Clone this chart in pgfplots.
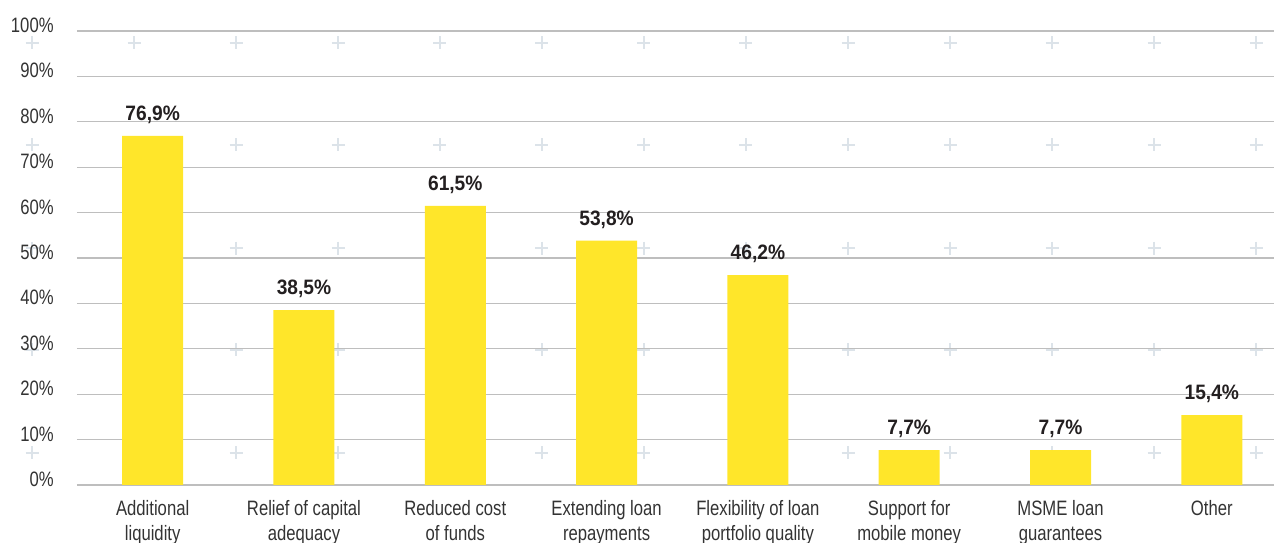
\documentclass[border=0pt]{standalone}
\usepackage{pgfplots}
\pgfplotsset{compat=1.18}
\usepackage{fontspec}
\setmainfont{Liberation Sans}[FakeStretch=0.80]
\newfontfamily\lblfont{Liberation Sans}[FakeStretch=0.92]
\definecolor{baryellow}{HTML}{FFE62A}
\definecolor{gridgray}{HTML}{BEBEBE}
\definecolor{txt}{HTML}{333333}
\definecolor{lbl}{HTML}{231F20}
\definecolor{plusc}{HTML}{DCE3E9}
\begin{document}
\begin{tikzpicture}
\begin{axis}[
  name=ax,
  set layers=standard,
  scale only axis,
  width=718.2pt, height=272.4pt,
  xmin=-0.5, xmax=7.411, ymin=0, ymax=100,
  clip=false,
  clip mode=individual,
  axis line style={draw=none},
  major tick length=0pt,
  ymajorgrids, grid style={gridgray, line width=0.8pt},
  ytick={0,10,...,100},
  yticklabels={0\%,10\%,20\%,30\%,40\%,50\%,60\%,70\%,80\%,90\%,100\%},
  yticklabel style={font=\fontsize{12.5}{14}\selectfont, text=txt, anchor=east, xshift=-10.5pt, yshift=3.4pt},
  xtick={0,...,7},
  xticklabels={Additional\\liquidity, Relief of capital\\adequacy, Reduced cost\\of funds, Extending loan\\repayments, Flexibility of loan\\portfolio quality, Support for\\mobile money, MSME loan\\guarantees, Other},
  xticklabel style={font=\fontsize{12.5}{15}\selectfont, text=txt, align=center, anchor=north, yshift=-6pt},
  /pgf/number format/assume math mode=true,
]
\addplot[on layer=axis background, mark layer=axis background, only marks, mark=+, mark size=3.9pt, color=plusc, line width=0.7pt, forget plot] coordinates {
(-0.797,97.36)(-0.123,97.36)(0.551,97.36)(1.225,97.36)(1.899,97.36)(2.573,97.36)(3.247,97.36)(3.921,97.36)(4.596,97.36)(5.270,97.36)(5.944,97.36)(6.618,97.36)(7.292,97.36)
(-0.797,74.89)(-0.123,74.89)(0.551,74.89)(1.225,74.89)(1.899,74.89)(2.573,74.89)(3.247,74.89)(3.921,74.89)(4.596,74.89)(5.270,74.89)(5.944,74.89)(6.618,74.89)(7.292,74.89)
(-0.797,52.20)(-0.123,52.20)(0.551,52.20)(1.225,52.20)(1.899,52.20)(2.573,52.20)(3.247,52.20)(3.921,52.20)(4.596,52.20)(5.270,52.20)(5.944,52.20)(6.618,52.20)(7.292,52.20)
(-0.797,29.74)(-0.123,29.74)(0.551,29.74)(1.225,29.74)(1.899,29.74)(2.573,29.74)(3.247,29.74)(3.921,29.74)(4.596,29.74)(5.270,29.74)(5.944,29.74)(6.618,29.74)(7.292,29.74)
(-0.797,7.05)(-0.123,7.05)(0.551,7.05)(1.225,7.05)(1.899,7.05)(2.573,7.05)(3.247,7.05)(3.921,7.05)(4.596,7.05)(5.270,7.05)(5.944,7.05)(6.618,7.05)(7.292,7.05)
};
\addplot[ybar, bar width=36.6pt, fill=baryellow, draw=none,
  nodes near coords={\pgfmathprintnumber[fixed,fixed zerofill,precision=1,use comma]{\pgfplotspointmeta}\%},
  nodes near coords style={font=\lblfont\fontsize{12.5}{14}\selectfont\bfseries, text=lbl, anchor=south, yshift=3.8pt}]
coordinates {(0,76.9)(1,38.5)(2,61.5)(3,53.8)(4,46.2)(5,7.7)(6,7.7)(7,15.4)};
\end{axis}
\pgfresetboundingbox
\path[use as bounding box] ([xshift=-46.2pt,yshift=-34.8pt]ax.south west) rectangle ([yshift=18.6pt]ax.north east);
\end{tikzpicture}
\end{document}
